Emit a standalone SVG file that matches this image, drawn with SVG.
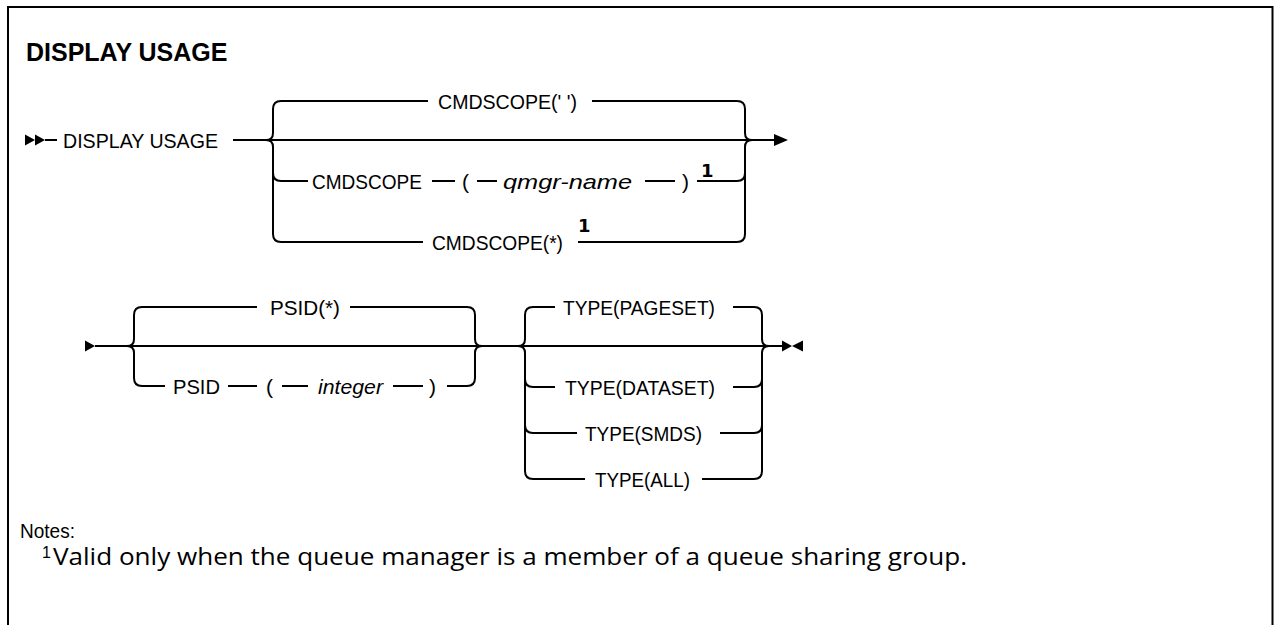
<svg xmlns="http://www.w3.org/2000/svg" width="1274" height="625" viewBox="0 0 1274 625">
<style>
.rail{fill:none;stroke:#000;stroke-width:2}
.frame{fill:none;stroke:#000;stroke-width:2}
.lbl{font-family:"Liberation Sans",Arial,sans-serif;font-size:21px;fill:#000}
.it{font-style:italic}
.sup{font-family:"DejaVu Sans",sans-serif;font-size:18px;font-weight:bold;fill:#000}
.title{font-family:"Liberation Sans",Arial,sans-serif;font-size:25px;font-weight:bold;fill:#000}
.note{font-family:"Open Sans","Liberation Sans",sans-serif;font-size:24px;fill:#000}
.notes-h{font-family:"Liberation Sans",Arial,sans-serif;font-size:20px;fill:#000}
.mark{fill:#000}
</style>
<path class="frame" d="M8,625 V7 H1272.5 V625"/>
<g id="title"><text class="title" x="26" y="61">DISPLAY USAGE</text></g>
<g id="connectors">
<path class="rail" d="M45,140 H57 M233,140 H775"/>
<path class="rail" d="M281,101 Q273,101 273,109 V133 Q273,140 266,140 Q273,140 273,147 V234 Q273,242 281,242"/>
<path class="rail" d="M273,173 Q273,181 281,181 H308"/>
<path class="rail" d="M281,101 H428 M592,101 H737 Q745,101 745,109 V133 Q745,140 752,140 Q745,140 745,147 V234 Q745,242 737,242"/>
<path class="rail" d="M432,181 H455 M477,181 H497 M645,181 H675 M697,181 H737 Q745,181 745,173"/>
<path class="rail" d="M281,242 H423 M578,242 H737"/>
<polygon class="mark" points="774,134 788,140 774,146"/>
<path class="rail" d="M95,346 H782"/>
<path class="rail" d="M142,307 Q134,307 134,315 V339 Q134,346 127,346 Q134,346 134,353 V378 Q134,386 142,386"/>
<path class="rail" d="M142,307 H257 M350,307 H467 Q475,307 475,315 V339 Q475,346 482,346 Q475,346 475,353 V378 Q475,386 467,386"/>
<path class="rail" d="M142,386 H165 M228,386 H257 M282,386 H308 M393,386 H423 M447,386 H467"/>
<path class="rail" d="M533,307 Q525,307 525,315 V339 Q525,346 518,346 Q525,346 525,353 V471 Q525,479 533,479 M525,379 Q525,387 533,387 M525,425 Q525,433 533,433"/>
<path class="rail" d="M754,307 Q762,307 762,315 V339 Q762,346 769,346 Q762,346 762,353 V471 Q762,479 754,479 M762,379 Q762,387 754,387 M762,425 Q762,433 754,433"/>
<path class="rail" d="M533,307 H555 M733,307 H754 M533,387 H555 M733,387 H754 M533,433 H577 M720,433 H754 M533,479 H585 M702,479 H754"/>
</g>
<g id="start1"><polygon class="mark" points="25,134.5 35,140 25,145.5"/><polygon class="mark" points="35,134.5 45,140 35,145.5"/></g>
<g id="kw-display-usage"><text class="lbl" x="63" y="147.5" textLength="155" lengthAdjust="spacingAndGlyphs">DISPLAY USAGE</text></g>
<g id="opt-cmdscope-blank"><text class="lbl" x="438" y="108.5" textLength="139" lengthAdjust="spacingAndGlyphs">CMDSCOPE(' ')</text></g>
<g id="opt-cmdscope-qmgr">
<text class="lbl" x="312" y="188.5" textLength="110" lengthAdjust="spacingAndGlyphs">CMDSCOPE</text>
<text class="lbl" x="462" y="188.5">(</text>
<text class="lbl it" x="503" y="188.5" textLength="129" lengthAdjust="spacingAndGlyphs">qmgr-name</text>
<text class="lbl" x="682" y="188.5">)</text>
<text class="sup" x="701" y="177">1</text>
</g>
<g id="opt-cmdscope-star">
<text class="lbl" x="432" y="249.5" textLength="131" lengthAdjust="spacingAndGlyphs">CMDSCOPE(*)</text>
<text class="sup" x="578" y="232">1</text>
</g>
<g id="start2"><polygon class="mark" points="85,340.5 95,346 85,351.5"/></g>
<g id="opt-psid-star"><text class="lbl" x="270" y="314.5" textLength="70" lengthAdjust="spacingAndGlyphs">PSID(*)</text></g>
<g id="opt-psid-int">
<text class="lbl" x="173" y="393.5" textLength="47" lengthAdjust="spacingAndGlyphs">PSID</text>
<text class="lbl" x="266" y="393.5">(</text>
<text class="lbl it" x="318" y="393.5" textLength="65" lengthAdjust="spacingAndGlyphs">integer</text>
<text class="lbl" x="429" y="393.5">)</text>
</g>
<g id="opt-type-pageset"><text class="lbl" x="563" y="314.5" textLength="152" lengthAdjust="spacingAndGlyphs">TYPE(PAGESET)</text></g>
<g id="opt-type-dataset"><text class="lbl" x="565" y="394.5" textLength="150" lengthAdjust="spacingAndGlyphs">TYPE(DATASET)</text></g>
<g id="opt-type-smds"><text class="lbl" x="585" y="440.5" textLength="117" lengthAdjust="spacingAndGlyphs">TYPE(SMDS)</text></g>
<g id="opt-type-all"><text class="lbl" x="595" y="486.5" textLength="95" lengthAdjust="spacingAndGlyphs">TYPE(ALL)</text></g>
<g id="end2"><polygon class="mark" points="782,340.5 792,346 782,351.5"/><polygon class="mark" points="803,340.5 792,346 803,351.5"/></g>
<g id="notes">
<text class="notes-h" x="20" y="538" textLength="55" lengthAdjust="spacingAndGlyphs">Notes:</text>
<text class="notes-h" style="font-size:16px" x="42" y="557.5">1</text>
<text class="note" x="53" y="565" textLength="914" lengthAdjust="spacingAndGlyphs">Valid only when the queue manager is a member of a queue sharing group.</text>
</g>
</svg>
